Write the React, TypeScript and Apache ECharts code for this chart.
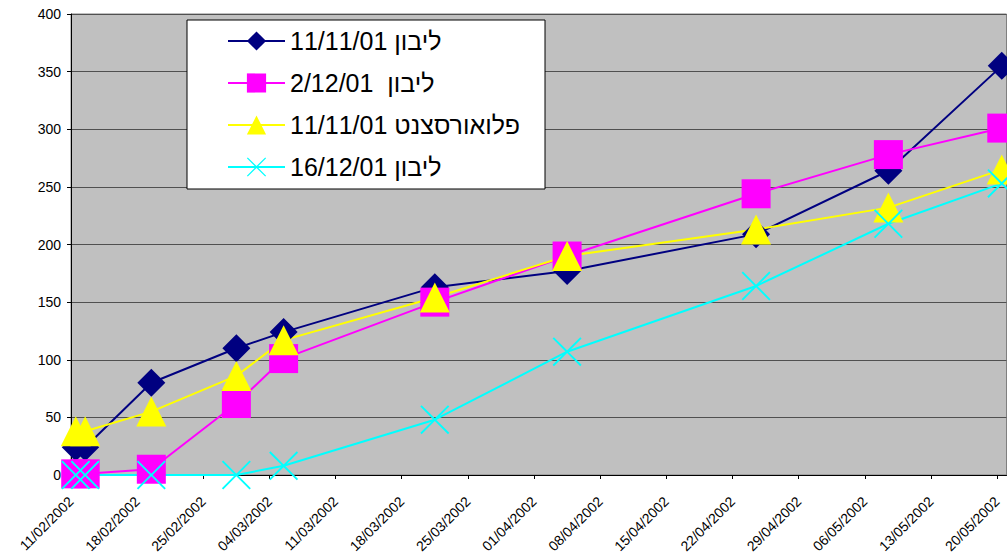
import React, { useEffect, useRef } from 'react';
import * as echarts from 'echarts';

// Weekly tick labels on the date axis
const weekLabels = [
  '11/02/2002', '18/02/2002', '25/02/2002', '04/03/2002', '11/03/2002',
  '18/03/2002', '25/03/2002', '01/04/2002', '08/04/2002', '15/04/2002',
  '22/04/2002', '29/04/2002', '06/05/2002', '13/05/2002', '20/05/2002',
];
const axisEndDate = '21/05/2002';

// Measurement dates
const sampleDates = [
  '11/02/2002', '12/02/2002', '19/02/2002', '28/02/2002', '05/03/2002',
  '21/03/2002', '04/04/2002', '24/04/2002', '08/05/2002', '20/05/2002',
];

const seriesNames = [
  '11/11/01 ליבון',
  '2/12/01  ליבון',
  '11/11/01 פלואורסצנט',
  '16/12/01 ליבון',
];

const livun1111 = [24, 24, 80, 110, 124, 163, 177, 209, 264, 355];
const livun0212 = [1, 1, 5, 62, 101, 150, 190, 244, 278, 301];
const fluor1111 = [38, 38, 55, 86, 117, 154, 190, 213, 232, 265];
const livun1612 = [0, 0, 0, 0, 8, 48, 107, 164, 218, 253];

const yMin = 0;
const yMax = 400;
const yStep = 50;

const FONT = 'Arial, "Liberation Sans", sans-serif';
const CROSS =
  'path://M0,1.4L1.4,0L15,13.6L28.6,0L30,1.4L16.4,15L30,28.6L28.6,30L15,16.4L1.4,30L0,28.6L13.6,15Z';

function dayIndex(s: string): number {
  const [d, m, y] = s.split('/').map(Number);
  return Math.round((Date.UTC(y, m - 1, d) - Date.UTC(2002, 1, 11)) / 86400000);
}

export default function App() {
  const ref = useRef<HTMLDivElement>(null);

  useEffect(() => {
    if (!ref.current) return;
    const chart = echarts.init(ref.current, undefined, { renderer: 'svg' });

    const tickValues = weekLabels.map(dayIndex);
    const labelByDay: Record<number, string> = {};
    weekLabels.forEach((l) => (labelByDay[dayIndex(l)] = l));
    const xs = sampleDates.map((d) => dayIndex(d) + 0.5);

    const mk = (
      name: string,
      vals: number[],
      color: string,
      symbol: string,
      size: number
    ) => ({
      name,
      type: 'line',
      data: vals.map((v, i) => [xs[i], v]),
      symbol,
      symbolSize: size,
      showAllSymbol: true,
      lineStyle: { color, width: 2 },
      itemStyle: { color, borderWidth: 0 },
      emphasis: { disabled: true },
      clip: false,
    });

    chart.setOption({
      animation: false,
      backgroundColor: '#ffffff',
      textStyle: { fontFamily: FONT },
      grid: {
        left: 71,
        top: 14,
        width: 935.5,
        height: 461,
        show: true,
        backgroundColor: '#C0C0C0',
        borderColor: '#808080',
        borderWidth: 1,
        outerBoundsMode: 'none',
        containLabel: false,
      },
      xAxis: {
        type: 'value',
        min: 0,
        max: dayIndex(axisEndDate),
        interval: 7,
        axisLine: { show: true, onZero: false, lineStyle: { color: '#000', width: 1 } },
        axisTick: {
          show: true,
          length: 4,
          inside: false,
          customValues: tickValues,
          lineStyle: { color: '#000' },
        },
        axisLabel: {
          show: true,
          customValues: tickValues,
          rotate: 45,
          margin: 24,
          fontSize: 14,
          color: '#000',
          fontFamily: FONT,
          formatter: (v: number) => labelByDay[Math.round(v)] ?? '',
        },
        splitLine: { show: false },
      },
      yAxis: {
        type: 'value',
        min: yMin,
        max: yMax,
        interval: yStep,
        axisLine: { show: true, lineStyle: { color: '#000', width: 1 } },
        axisTick: { show: true, length: 4, inside: false, lineStyle: { color: '#000' } },
        axisLabel: { margin: 10, fontSize: 14, color: '#000', fontFamily: FONT },
        splitLine: { show: true, lineStyle: { color: '#505050', width: 1 } },
      },
      graphic: [
        {
          type: 'rect',
          z: 3,
          shape: { x: 187, y: 20, width: 358, height: 169 },
          style: { fill: '#ffffff', stroke: '#000000', lineWidth: 1 },
          silent: true,
        },
      ],
      legend: {
        show: true,
        z: 5,
        orient: 'vertical',
        left: 227,
        top: 27,
        padding: 0,
        itemWidth: 57,
        itemHeight: 24,
        itemGap: 14,
        selectedMode: false,
        backgroundColor: 'transparent',
        textStyle: { fontSize: 25, color: '#000', fontFamily: FONT, lineHeight: 28 },
        data: seriesNames,
      },
      series: [
        mk(seriesNames[0], livun1111, '#000080', 'diamond', 28),
        mk(seriesNames[1], livun0212, '#FF00FF', 'rect', 29),
        mk(seriesNames[2], fluor1111, '#FFFF00', 'triangle', 30),
        mk(seriesNames[3], livun1612, '#00FFFF', CROSS, 29),
      ],
    });

    return () => chart.dispose();
  }, []);

  return (
    <div
      ref={ref}
      style={{ position: 'fixed', left: 0, top: 0, width: 1007, height: 555, background: '#fff' }}
    />
  );
}
